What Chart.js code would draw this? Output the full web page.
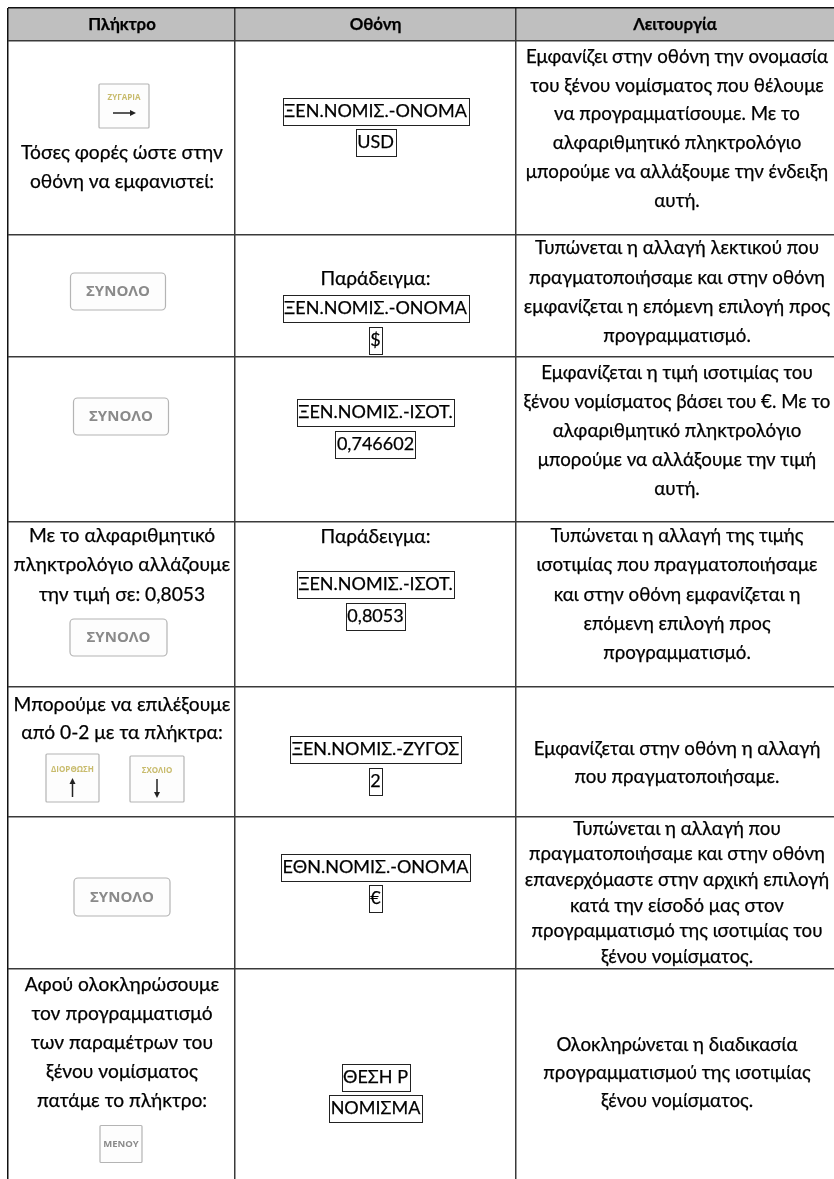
<!DOCTYPE html>
<html lang="el">
<head>
<meta charset="utf-8">
<title>Πλήκτρο / Οθόνη / Λειτουργία</title>
<script src="https://cdn.jsdelivr.net/npm/chart.js@4"></script>
<style>
  html, body { margin: 0; background: #fff; }
  canvas { display: block; }
</style>
</head>
<body>
<canvas id="chartTable" width="834" height="1179"></canvas>
<script>
// Table contents
const headers = ['Πλήκτρο', 'Οθόνη', 'Λειτουργία'];

const keyColumnLines = [
  'Τόσες φορές ώστε στην', 'οθόνη να εμφανιστεί:',
  'Με το αλφαριθμητικό', 'πληκτρολόγιο αλλάζουμε', 'την τιμή σε: 0,8053',
  'Μπορούμε να επιλέξουμε', 'από 0-2 με τα πλήκτρα:',
  'Αφού ολοκληρώσουμε', 'τον προγραμματισμό', 'των παραμέτρων του', 'ξένου νομίσματος', 'πατάμε το πλήκτρο:',
];
const displayNotes = ['Παράδειγμα:', 'Παράδειγμα:'];
const displayBoxes = [
  'ΞΕΝ.ΝΟΜΙΣ.-ΟΝΟΜΑ', 'USD',
  'ΞΕΝ.ΝΟΜΙΣ.-ΟΝΟΜΑ', '$',
  'ΞΕΝ.ΝΟΜΙΣ.-ΙΣΟΤ.', '0,746602',
  'ΞΕΝ.ΝΟΜΙΣ.-ΙΣΟΤ.', '0,8053',
  'ΞΕΝ.ΝΟΜΙΣ.-ΖΥΓΟΣ', '2',
  'ΕΘΝ.ΝΟΜΙΣ.-ΟΝΟΜΑ', '€',
  'ΘΕΣΗ Ρ', 'ΝΟΜΙΣΜΑ',
];
const functionLines = [
  'Εμφανίζει στην οθόνη την ονομασία', 'του ξένου νομίσματος που θέλουμε', 'να προγραμματίσουμε. Με το',
  'αλφαριθμητικό πληκτρολόγιο', 'μπορούμε να αλλάξουμε την ένδειξη', 'αυτή.',
  'Τυπώνεται η αλλαγή λεκτικού που', 'πραγματοποιήσαμε και στην οθόνη', 'εμφανίζεται η επόμενη επιλογή προς', 'προγραμματισμό.',
  'Εμφανίζεται η τιμή ισοτιμίας του', 'ξένου νομίσματος βάσει του €. Με το', 'αλφαριθμητικό πληκτρολόγιο', 'μπορούμε να αλλάξουμε την τιμή', 'αυτή.',
  'Τυπώνεται η αλλαγή της τιμής', 'ισοτιμίας που πραγματοποιήσαμε', 'και στην οθόνη εμφανίζεται η', 'επόμενη επιλογή προς', 'προγραμματισμό.',
  'Εμφανίζεται στην οθόνη η αλλαγή', 'που πραγματοποιήσαμε.',
  'Τυπώνεται η αλλαγή που', 'πραγματοποιήσαμε και στην οθόνη', 'επανερχόμαστε στην αρχική επιλογή', 'κατά την είσοδό μας στον', 'προγραμματισμό της ισοτιμίας του', 'ξένου νομίσματος.',
  'Ολοκληρώνεται η διαδικασία', 'προγραμματισμού της ισοτιμίας', 'ξένου νομίσματος.',
];
const keyLabels = ['ΖΥΓΑΡΙΑ', 'ΣΥΝΟΛΟ', 'ΣΥΝΟΛΟ', 'ΣΥΝΟΛΟ', 'ΔΙΟΡΘΩΣΗ', 'ΣΧΟΛΙΟ', 'ΣΥΝΟΛΟ', 'ΜΕΝΟΥ'];
const keyArrows = ['right', '', '', '', 'up', 'down', '', ''];

// Layout, in scale units
const columnEdges = [8, 235, 516];
const rowEdges = [8, 41, 235, 357, 522, 687, 817, 969];
const headerX = [122, 375.5, 675];
const columnCentres = [122, 375.5, 677];
const headerY = 25;
const keyColumnY = [153, 182, 536, 565, 595, 705, 733, 985, 1014, 1043, 1072, 1101];
const displayNoteY = [279, 537];
const displayBoxY = [111, 142, 308, 340, 412, 444, 584, 616, 749, 781, 867, 898, 1077, 1108];
const functionY = [
  57, 86, 114, 143, 172, 201,
  248, 278, 307, 336,
  373, 402, 431, 460, 489,
  536, 565, 595, 624, 653,
  749, 777,
  829, 854, 880, 906, 931, 957,
  1045, 1073, 1101,
];
const keyX = [124, 118, 121, 118.5, 72.5, 157, 122, 121];
const keyY = [106, 291.5, 416.5, 637.5, 778, 779, 897, 1144];
const keyW = [50, 95, 95, 97, 53, 54, 96, 42];
const keyH = [44, 37, 37, 37, 48, 46, 38, 37];

// Carlito is not installed, Lato has nearly the same shapes; sizes fitted per column
const FONT_FAMILY = 'Lato, "Open Sans", sans-serif';
const fontByKind = {
  header: `bold 16.8px ${FONT_FAMILY}`,
  keyText: `19.2px ${FONT_FAMILY}`,
  note: `19.2px ${FONT_FAMILY}`,
  box: `18px ${FONT_FAMILY}`,
  func: `18.7px ${FONT_FAMILY}`,
};

const pts = (labels, xs, ys) => labels.map((label, i) => ({ x: Array.isArray(xs) ? xs[i] : xs, y: ys[i], label }));
const markDataset = (kind, data) => ({ kind, data, pointRadius: 0, pointHoverRadius: 0, showLine: false });

const tableText = {
  id: 'tableText',
  beforeDraw(chart) {
    const { ctx, scales: { x, y } } = chart;
    ctx.save();
    ctx.fillStyle = '#bfbfbf';
    ctx.fillRect(x.left, y.getPixelForValue(rowEdges[0]), x.right - x.left, y.getPixelForValue(rowEdges[1]) - y.getPixelForValue(rowEdges[0]));
    ctx.restore();
  },
  afterDatasetsDraw(chart) {
    const { ctx } = chart;
    ctx.save();
    ctx.textAlign = 'center';
    ctx.textBaseline = 'middle';
    chart.data.datasets.forEach((ds, d) => {
      chart.getDatasetMeta(d).data.forEach((pt, i) => {
        const item = ds.data[i];
        if (ds.kind === 'key') { drawKey(ctx, pt.x, pt.y, i); return; }
        ctx.fillStyle = '#000';
        ctx.strokeStyle = '#000';
        ctx.lineWidth = 0.25;
        ctx.font = fontByKind[ds.kind];
        ctx.filter = 'blur(0.25px)';
        ctx.fillText(item.label, pt.x, pt.y);
        ctx.strokeText(item.label, pt.x, pt.y);
        ctx.filter = 'none';
        if (ds.kind === 'box') {
          const w = ctx.measureText(item.label).width + 3;
          ctx.strokeStyle = '#222';
          ctx.lineWidth = 1;
          ctx.strokeRect(Math.round(pt.x - w / 2) + 0.5, Math.round(pt.y - 13) + 0.5, Math.round(w), 27);
        }
      });
    });
    ctx.restore();
  },
};

// The keys are little scanned pictures in the source, hence the soft edges
function drawKey(ctx, cx, cy, i) {
  const w = keyW[i], h = keyH[i], arrow = keyArrows[i];
  const left = cx - w / 2, top = cy - h / 2;
  ctx.save();
  ctx.filter = 'blur(0.7px)';
  ctx.fillStyle = '#fdfdfd';
  ctx.strokeStyle = '#b4b4b4';
  ctx.lineWidth = 1.2;
  ctx.beginPath();
  ctx.roundRect(left, top, w, h, w > 60 ? 4 : 1);
  ctx.fill();
  ctx.stroke();
  if (arrow) {
    ctx.fillStyle = '#c8bb6c';
    ctx.font = 'bold 8px "Open Sans", sans-serif';
    ctx.fillText(keyLabels[i], cx, top + h * 0.32, w - 6);
    ctx.strokeStyle = '#222';
    ctx.fillStyle = '#222';
    ctx.lineWidth = 1.5;
    ctx.beginPath();
    if (arrow === 'right') {
      ctx.moveTo(cx - 11, cy + 7); ctx.lineTo(cx + 10, cy + 7); ctx.stroke();
      ctx.beginPath(); ctx.moveTo(cx + 12, cy + 7); ctx.lineTo(cx + 6, cy + 4); ctx.lineTo(cx + 6, cy + 10);
    } else if (arrow === 'up') {
      ctx.moveTo(cx, cy + 19); ctx.lineTo(cx, cy + 4); ctx.stroke();
      ctx.beginPath(); ctx.moveTo(cx, cy); ctx.lineTo(cx - 3, cy + 6); ctx.lineTo(cx + 3, cy + 6);
    } else {
      ctx.moveTo(cx, cy); ctx.lineTo(cx, cy + 15); ctx.stroke();
      ctx.beginPath(); ctx.moveTo(cx, cy + 19); ctx.lineTo(cx - 3, cy + 13); ctx.lineTo(cx + 3, cy + 13);
    }
    ctx.closePath();
    ctx.fill();
  } else {
    ctx.fillStyle = '#8a8a8a';
    ctx.font = w > 60 ? 'bold 15px "Open Sans", sans-serif' : 'bold 9.5px "Open Sans", sans-serif';
    ctx.fillText(keyLabels[i], cx, cy + 0.5, w - 3);
  }
  ctx.restore();
}

const ruleColor = (c) => (c.tick.value === 8 ? '#111' : '#3a3a3a');

new Chart(document.getElementById('chartTable'), {
  type: 'scatter',
  data: {
    datasets: [
      markDataset('header', pts(headers, headerX, [headerY, headerY, headerY])),
      markDataset('keyText', pts(keyColumnLines, columnCentres[0], keyColumnY)),
      markDataset('note', pts(displayNotes, columnCentres[1], displayNoteY)),
      markDataset('box', pts(displayBoxes, columnCentres[1], displayBoxY)),
      markDataset('func', pts(functionLines, columnCentres[2], functionY)),
      markDataset('key', pts(keyLabels, keyX, keyY)),
    ],
  },
  options: {
    responsive: false,
    animation: false,
    events: [],
    layout: { padding: { left: 8, top: 8, right: 0, bottom: 0 } },
    plugins: { legend: { display: false }, tooltip: { enabled: false } },
    scales: {
      x: {
        type: 'linear', min: 8, max: 834,
        afterBuildTicks: (axis) => { axis.ticks = columnEdges.map((value) => ({ value })); },
        ticks: { display: false },
        border: { display: false },
        grid: { color: ruleColor, lineWidth: 1.5, drawTicks: false },
      },
      y: {
        type: 'linear', min: 8, max: 1179, reverse: true,
        afterBuildTicks: (axis) => { axis.ticks = rowEdges.map((value) => ({ value })); },
        ticks: { display: false },
        border: { display: false },
        grid: { color: ruleColor, lineWidth: 1.5, drawTicks: false },
      },
    },
  },
  plugins: [tableText],
});
</script>
</body>
</html>
